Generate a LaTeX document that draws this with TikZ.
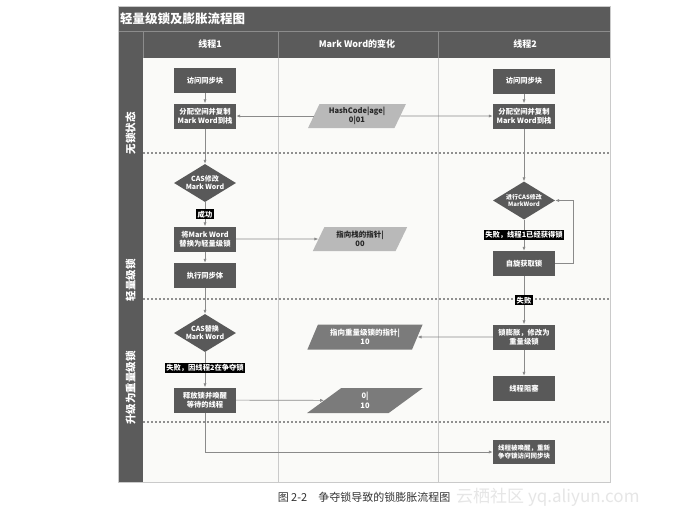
\documentclass[tikz,border=0pt]{standalone}
\usepackage{fontspec}
\setmainfont{Noto Sans CJK SC}
\usetikzlibrary{shapes.geometric,arrows.meta}

\definecolor{headgray}{HTML}{5B5B5B}
\definecolor{boxgray}{HTML}{595959}
\definecolor{bodybg}{HTML}{FAFAF8}
\definecolor{lanegray}{HTML}{CACACA}
\definecolor{rulegray}{HTML}{8C8C8C}
\definecolor{linegray}{HTML}{8A8A8A}
\definecolor{sepgray}{HTML}{8F8F8F}
\definecolor{paralight}{HTML}{B9B9B9}
\definecolor{paradark}{HTML}{7B7B7B}
\definecolor{markgray}{HTML}{E6E6E6}

\tikzset{
  proc/.style={fill=boxgray, text=white, minimum width=62pt, minimum height=25pt,
    inner sep=1pt, align=center, font=\bfseries\fontsize{7.3}{9}\selectfont},
  decide/.style={diamond, fill=boxgray, text=white, aspect=1.63, minimum width=62pt,
    minimum height=38pt, inner sep=0pt, align=center, font=\bfseries\fontsize{7}{8}\selectfont},
  wordlight/.style={trapezium, trapezium left angle=66, trapezium right angle=114,
    trapezium stretches=true, fill=paralight, text=black!85, minimum width=98pt,
    minimum height=24pt, inner sep=1pt, align=center, font=\bfseries\fontsize{7.5}{9.5}\selectfont},
  worddark/.style={wordlight, fill=paradark, text=white, minimum width=116pt,
    minimum height=25pt},
  tag/.style={fill=black, text=white, inner sep=1.3pt, font=\bfseries\fontsize{7.3}{8}\selectfont},
  colhead/.style={text=white, font=\bfseries\fontsize{9}{10}\selectfont},
  phase/.style={text=white, rotate=90, font=\bfseries\fontsize{10.5}{12}\selectfont},
  flow/.style={draw=linegray, line width=0.7pt, -{Latex[length=4pt,width=3.2pt]}},
  sep/.style={draw=sepgray, line width=1.3pt, dash pattern=on 2pt off 2pt},
  lane/.style={draw=lanegray, line width=0.8pt},
  rule/.style={draw=rulegray, line width=0.8pt}
}

\begin{document}
\begin{tikzpicture}[x=1pt, y=-1pt]
\useasboundingbox (0,0) rectangle (692,512);
\fill[white] (0,0) rectangle (692,512);

% Frame and lanes
\fill[bodybg] (143,58) rectangle (610,482);
\fill[headgray] (118,6) rectangle (610,58);
\fill[headgray] (118,58) rectangle (143,482);
\draw[rule] (118,31) -- (610,31);
\foreach \x in {143,278,438} \draw[rule] (\x,31) -- (\x,58);
\foreach \x in {278,438} \draw[lane] (\x,58) -- (\x,482);
\draw[lane] (118,6) rectangle (610,482);

% Phase separators
\foreach \y in {153,299,422} \draw[sep] (143,\y) -- (610,\y);

% Headings
\node[anchor=west, inner sep=0pt, text=white, font=\bfseries\fontsize{12.5}{14}\selectfont]
  (title) at (120,18.5) {轻量级锁及膨胀流程图};
\node[colhead] (hdA) at (210,44.5) {线程1};
\node[colhead] (hdM) at (357,44.5) {Mark Word的变化};
\node[colhead] (hdB) at (525,44.5) {线程2};
\node[phase] (phFree) at (130.5,133) {无锁状态};
\node[phase] (phLight) at (130.5,280) {轻量级锁};
\node[phase] (phHeavy) at (130.5,388) {升级为重量级锁};

% Thread 1
\node[proc] (enterA) at (205,80.5) {访问同步块};
\node[proc] (copyA) at (205,116) {分配空间并复制\\Mark Word到栈};
\node[decide] (casA) at (205,183) {CAS修改\\Mark Word};
\node[proc] (swapA) at (205,239) {将Mark Word\\替换为轻量级锁};
\node[proc] (runA) at (205,275.5) {执行同步体};
\node[decide] (casB) at (205,333) {CAS替换\\Mark Word};
\node[proc] (wakeA) at (205,400) {释放锁并唤醒\\等待的线程};

% Mark Word
\node[wordlight] (hashWord) at (357,116) {HashCode|age|\\0|01};
\node[wordlight, minimum width=95pt] (stackWord) at (360,239) {指向栈的指针|\\00};
\node[worddark] (heavyWord) at (365,337) {指向重量级锁的指针|\\10};
\node[worddark] (freeWord) at (365,400.5) {0|\\10};

% Thread 2
\node[proc] (enterB) at (524,81) {访问同步块};
\node[proc] (copyB) at (524,116) {分配空间并复制\\Mark Word到栈};
\node[decide, font=\bfseries\fontsize{6}{7.5}\selectfont] (casC) at (524,200.5) {进行CAS修改\\MarkWord};
\node[proc] (spinB) at (524,263.5) {自旋获取锁};
\node[proc] (inflateB) at (524,337) {锁膨胀，修改为\\重量级锁};
\node[proc] (blockB) at (524,388.5) {线程阻塞};
\node[proc, minimum height=24pt, font=\bfseries\fontsize{6.5}{8.5}\selectfont] (retryB) at (524,452) {线程被唤醒，重新\\争夺锁访问同步块};

% Connectors
\draw[flow] (enterA) -- (copyA);
\draw[flow] (hashWord) -- (copyA);
\draw[flow] (hashWord) -- (copyB);
\draw[flow] (copyA) -- (casA);
\draw[flow] (casA) -- node[tag] {成功} (swapA);
\draw[flow] (swapA) -- (stackWord);
\draw[flow] (swapA) -- (runA);
\draw[flow] (runA) -- (casB);
\draw[flow] (casB) -- node[tag, pos=0.45] {失败，因线程2在争夺锁} (wakeA);
\draw[flow] (wakeA) -- (freeWord);
\draw[flow] (wakeA) |- (retryB);

\draw[flow] (enterB) -- (copyB);
\draw[flow] (copyB) -- (casC);
\draw[flow] (casC) -- node[tag] {失败，线程1已经获得锁} (spinB);
\draw[flow] (spinB.east) -- ++(18,0) |- (casC.east);
\draw[flow] (spinB) -- node[tag] {失败} (inflateB);
\draw[flow] (inflateB) -- (heavyWord);
\draw[flow] (inflateB) -- (blockB);

% Caption
\node[text=black!80, font=\fontsize{11}{12}\selectfont] (caption) at (364,497.5)
  {图 2-2\quad 争夺锁导致的锁膨胀流程图};
\node[anchor=west, inner sep=0pt, text=markgray, font=\fontsize{17}{18}\selectfont]
  (mark) at (456,497) {云栖社区 yq.aliyun.com};
\end{tikzpicture}
\end{document}
